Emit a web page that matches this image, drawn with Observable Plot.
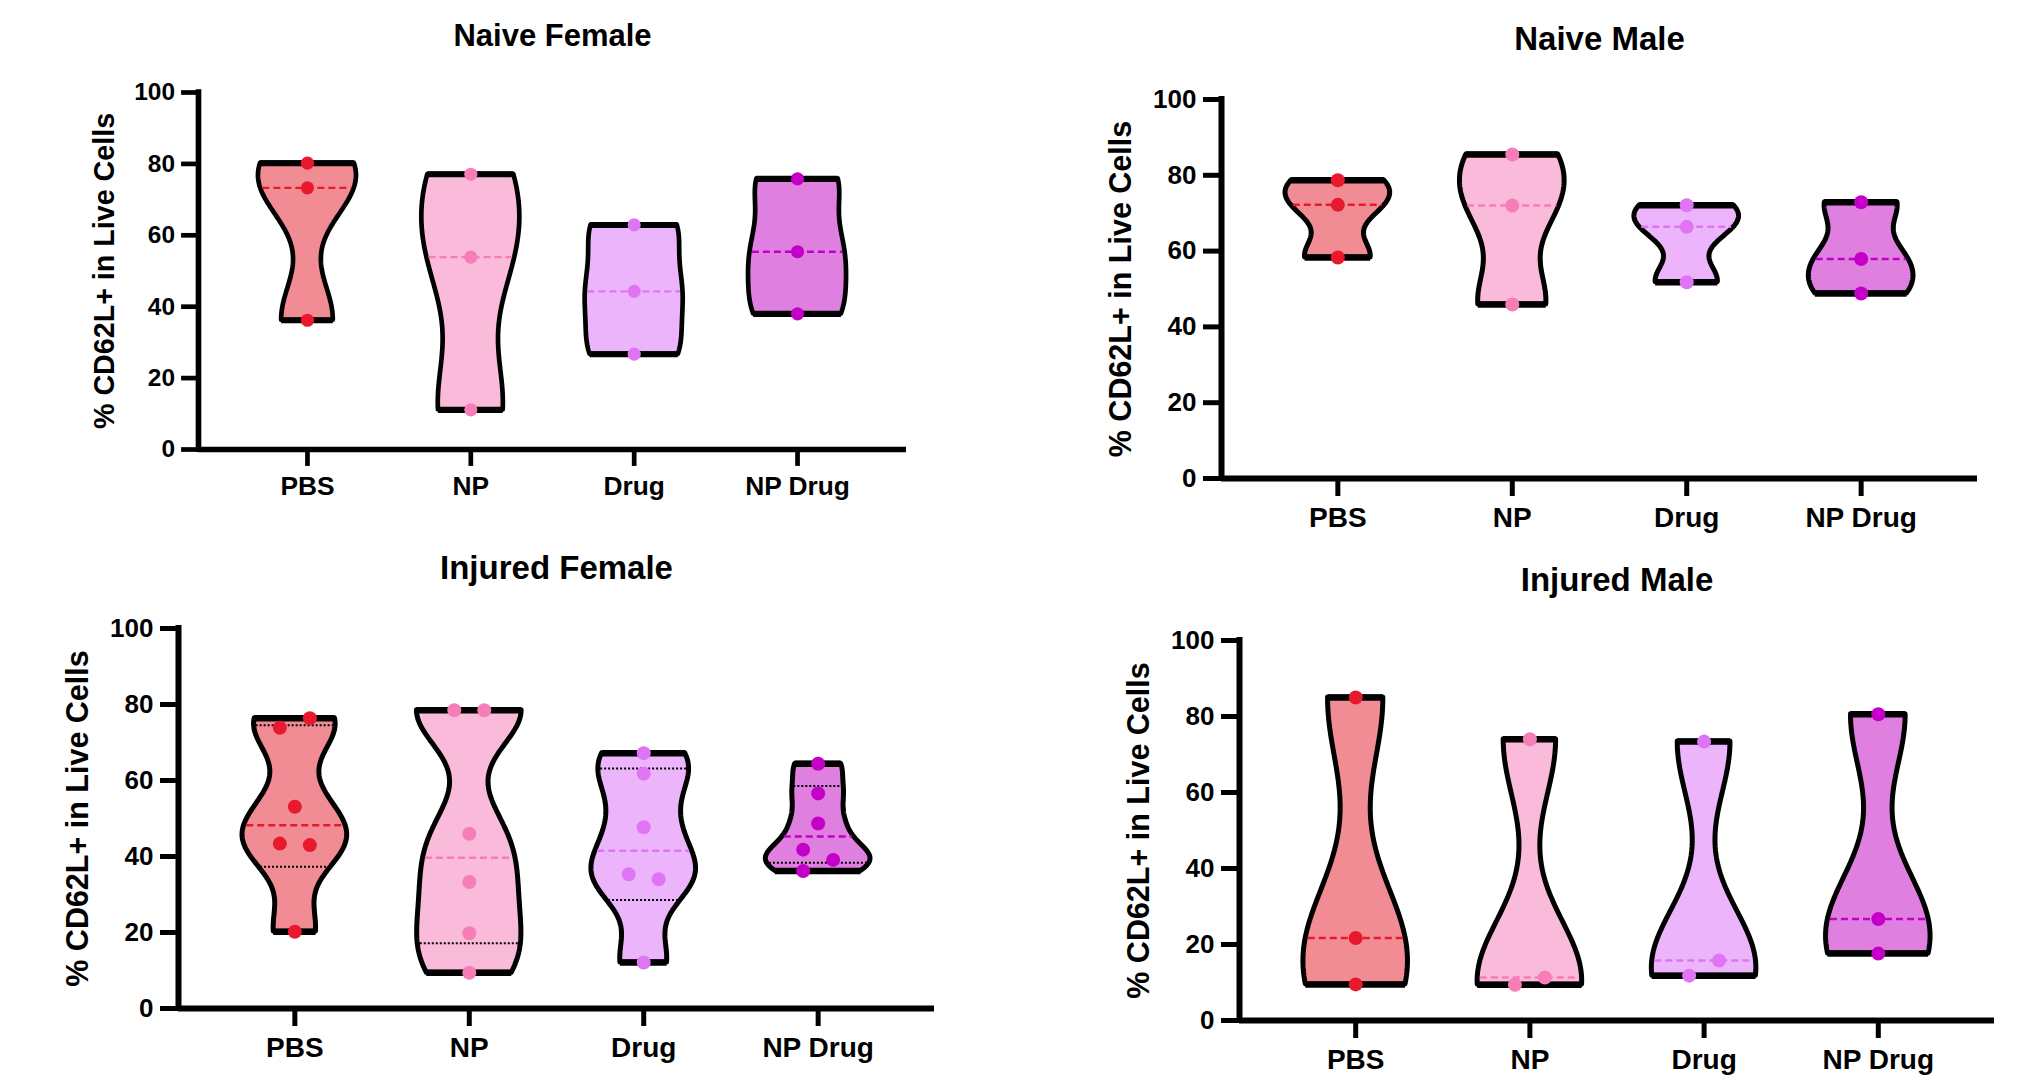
<!DOCTYPE html>
<html><head><meta charset="utf-8">
<script src="https://cdn.jsdelivr.net/npm/d3@7"></script>
<script src="https://cdn.jsdelivr.net/npm/@observablehq/plot@0.6"></script>
<style>
html,body{margin:0;padding:0;background:#fff;overflow:hidden;}
#root{position:relative;width:2017px;height:1076px;overflow:hidden;background:#fff;}
.panel{position:absolute;}
</style></head><body><div id="root"></div>
<script>
const categories = ["PBS", "NP", "Drug", "NP Drug"];
const yTicks = [0, 20, 40, 60, 80, 100];
const yLabel = "% CD62L+ in Live Cells";
const titles = ["Naive Female", "Naive Male", "Injured Female", "Injured Male"];

const naiveFemale = [[80.2, 73.3, 36.2], [77.1, 53.9, 11.1], [62.9, 44.3, 26.7], [75.8, 55.4, 38.0]];
const naiveMale = [[78.7, 72.2, 58.3], [85.5, 72.0, 45.9], [72.1, 66.4, 51.8], [72.9, 57.9, 48.8]];
const injuredFemale = [
  [20.2, 43.4, 43.0, 53.1, 73.9, 76.4],
  [9.4, 19.8, 33.3, 46.0, 78.5, 78.5],
  [12.1, 35.3, 34.0, 47.7, 61.8, 67.2],
  [36.2, 39.1, 41.8, 48.7, 56.6, 64.4]
];
const injuredMale = [[85.0, 21.7, 9.5], [74.0, 9.4, 11.3], [73.4, 11.8, 15.8], [80.6, 26.7, 17.6]];

const fills = ["#F28C94", "#F9BBD9", "#ECB4FB", "#DF80E1"];
const dotColors = ["#E8192C", "#F77DB8", "#DF75F5", "#C400C8"];

function quantilePrism(sorted, p) {
  const n = sorted.length;
  const pos = (n + 1) * p;
  if (pos <= 1) return sorted[0];
  if (pos >= n) return sorted[n - 1];
  const lo = Math.floor(pos), f = pos - lo;
  return sorted[lo - 1] + f * (sorted[lo] - sorted[lo - 1]);
}

function buildPanel(groups, title, geom) {
  const s = geom.s;
  const xDomain = [-0.667, 3.667];
  const maxHalf = 0.30;
  const jitter = 0.086;
  const violinMarks = [];
  const dotMarks = [];
  groups.forEach((vals, g) => {
    const sorted = vals.slice().sort((a, b) => a - b);
    const lo = sorted[0], hi = sorted[sorted.length - 1];
    const h = (hi - lo) / (vals.length + 1);
    const dens = y => d3.sum(vals, v => Math.exp(-0.5 * ((y - v) / h) ** 2));
    const N = 100;
    const grid = d3.range(N + 1).map(k => lo + (hi - lo) * k / N);
    const fmax = d3.max(grid, dens);
    const half = y => maxHalf * dens(y) / fmax;
    const rows = grid.map(y => ({y, x1: g - half(y), x2: g + half(y)}));
    violinMarks.push(Plot.areaX(rows, {y: "y", x1: "x1", x2: "x2", fill: fills[g], stroke: "black", strokeWidth: 5 * s, strokeLinejoin: "round"}));
    const caps = [lo, hi].map(y => ({y, x1: g - half(y), x2: g + half(y)}));
    violinMarks.push(Plot.ruleY(caps, {y: "y", x1: "x1", x2: "x2", stroke: "black", strokeWidth: 6.5 * s}));
    const qs = [quantilePrism(sorted, 0.25), quantilePrism(sorted, 0.75)].map(y => ({y, x1: g - half(y) * 0.95, x2: g + half(y) * 0.95}));
    violinMarks.push(Plot.ruleY(qs, {y: "y", x1: "x1", x2: "x2", stroke: "black", strokeWidth: 2 * s, strokeDasharray: "2,2"}));
    const med = d3.median(vals);
    violinMarks.push(Plot.ruleY([{y: med, x1: g - half(med) * 0.95, x2: g + half(med) * 0.95}], {y: "y", x1: "x1", x2: "x2", stroke: dotColors[g], strokeWidth: 2.5 * s, strokeDasharray: "7,4"}));
    // horizontal offsets for overlapping points
    const order = vals.map((v, i) => i).sort((a, b) => vals[a] - vals[b]);
    const offsets = new Array(vals.length).fill(0);
    let cluster = [order[0]];
    const flush = () => {
      if (cluster.length > 1) cluster.slice().sort((a, b) => a - b).forEach((idx, k) => { offsets[idx] = (k % 2 === 0 ? -1 : 1) * jitter; });
    };
    for (let k = 1; k < order.length; k++) {
      if (vals[order[k]] - vals[order[k - 1]] < 4.5) cluster.push(order[k]);
      else { flush(); cluster = [order[k]]; }
    }
    flush();
    dotMarks.push(Plot.dot(vals.map((v, i) => ({x: g + offsets[i], y: v})), {x: "x", y: "y", r: 7 * s, fill: dotColors[g], stroke: "none"}));
  });

  const ml = 140, mt = 80;
  const chart = Plot.plot({
    width: ml + geom.frameW + geom.mr,
    height: mt + geom.frameH + geom.mb,
    marginLeft: ml, marginTop: mt, marginRight: geom.mr, marginBottom: geom.mb,
    x: {domain: xDomain},
    y: {domain: [0, 100]},
    style: {fontFamily: "'Liberation Sans', Arial, Helvetica, sans-serif", fontWeight: "bold", color: "black", background: "transparent", overflow: "visible"},
    marks: [
      Plot.axisY({ticks: yTicks, tickFormat: d => String(d), tickSize: 18 * s, tickPadding: 7 * s, fontSize: 26 * s, fontWeight: "bold", strokeWidth: 5 * s, label: null}),
      Plot.axisX({ticks: [0, 1, 2, 3], tickFormat: i => categories[i], tickSize: 18 * s, tickPadding: 11 * s, fontSize: 28 * s, fontWeight: "bold", strokeWidth: 5 * s, label: null}),
      Plot.ruleY([0], {strokeWidth: 6 * s}),
      Plot.ruleX([xDomain[0]], {y1: 0, y2: 100, strokeWidth: 6 * s, strokeLinecap: "square"}),
      ...violinMarks,
      ...dotMarks,
      Plot.text([title], {text: d => d, frameAnchor: "top", lineAnchor: "middle", textAnchor: "middle", dy: geom.titleDy, fontSize: geom.titleSize, fontWeight: "bold"}),
      Plot.text([yLabel], {text: d => d, frameAnchor: "left", textAnchor: "middle", lineAnchor: "middle", dx: geom.labelDx, rotate: -90, fontSize: 30.5 * s, fontWeight: "bold"})
    ]
  });
  const div = document.createElement("div");
  div.className = "panel";
  div.style.left = geom.left + "px";
  div.style.top = geom.top + "px";
  div.appendChild(chart);
  document.getElementById("root").appendChild(div);
}

buildPanel(naiveFemale, titles[0], {left: 58, top: 12, s: 0.94, frameW: 708, frameH: 357, mr: 30, mb: 70, titleDy: -56, titleSize: 31, labelDx: -94});
buildPanel(naiveMale, titles[1], {left: 1081, top: 19, s: 1, frameW: 756, frameH: 379, mr: 30, mb: 70, titleDy: -60, titleSize: 33, labelDx: -100});
buildPanel(injuredFemale, titles[2], {left: 38, top: 548, s: 1, frameW: 756, frameH: 380, mr: 30, mb: 70, titleDy: -60, titleSize: 33, labelDx: -100});
buildPanel(injuredMale, titles[3], {left: 1099, top: 560, s: 1, frameW: 755, frameH: 380, mr: 20, mb: 56, titleDy: -60, titleSize: 33, labelDx: -100});
</script></body></html>
